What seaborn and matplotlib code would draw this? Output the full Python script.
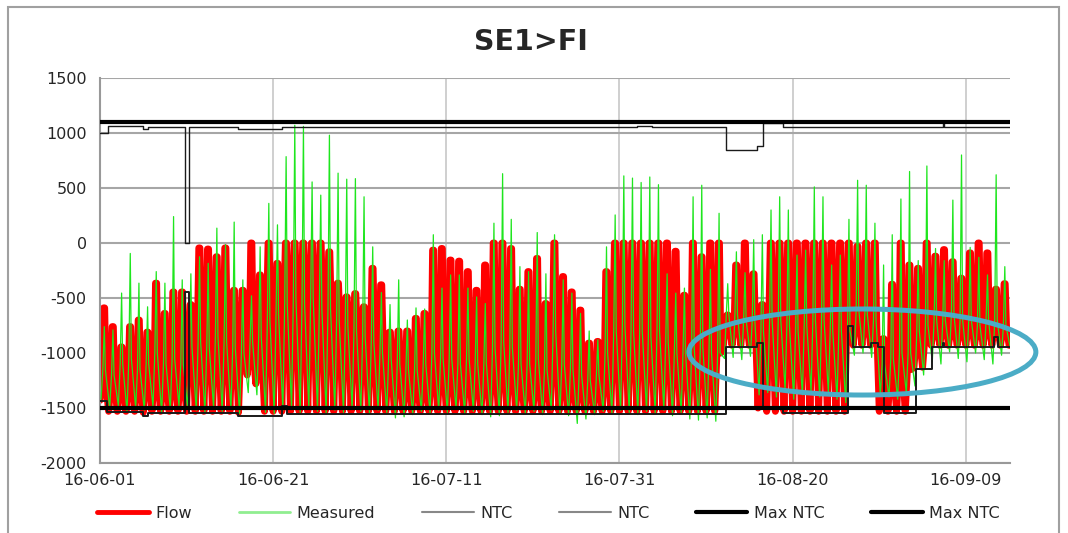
import pandas as pd
import matplotlib
matplotlib.use("Agg")
import matplotlib.pyplot as plt
import matplotlib.dates as mdates
from matplotlib.patches import Ellipse, Rectangle
from matplotlib.lines import Line2D
import seaborn as sns

# values (MW), one entry per day from 2016-06-01
# peak = daily top, mid = top of the dense band, low = daily bottom
flow_peak = [-590, -760, -945, -760, -700, -810, -365, -640, -445, -445,
             -560, -45, -55, -125, -45, -430, -430, 0, -290, 0,
             -185, 0, 0, 0, 0, 0, -80, -365, -490, -460,
             -580, -230, -380, -810, -800, -800, -685, -640, -65, -50,
             -155, -165, -260, -430, -200, 0, 0, -50, -420, -260,
             -140, -550, 0, -305, -445, -610, -910, -895, -260, 0,
             0, 0, 0, 0, 0, 0, -75, -475, 0, -125,
             0, 0, -655, -200, 0, -280, -560, 0, 0, 0,
             0, 0, 0, 0, 0, 0, 0, -30, 0, 0,
             -870, -375, 0, -200, -230, 0, -120, -60, -170, -320,
             -90, 0, -90, -420, -370, -930]
flow_mid = [-1300, -1300, -1320, -1280, -1300, -1260, -1250, -1280, -1240, -1250,
            -900, -850, -850, -900, -850, -950, -950, -1000, -1000, -650,
            -600, -550, -500, -550, -500, -550, -600, -700, -750, -800,
            -850, -900, -950, -1150, -1200, -1280, -1300, -1300, -1150, -1120,
            -1150, -1200, -1180, -1220, -1200, -1100, -1050, -1100, -1250, -1250,
            -1250, -1280, -900, -1250, -1300, -1300, -1320, -1300, -1150, -800,
            -750, -800, -750, -800, -800, -850, -950, -1000, -1000, -950,
            -1000, -1000, -750, -720, -740, -780, -750, -700, -650, -700,
            -700, -650, -650, -700, -700, -700, -750, -700, -720, -760,
            -1200, -1200, -1150, -1150, -900, -880, -780, -760, -780, -800,
            -760, -780, -760, -800, -790, -930]
flow_low = [-1430, -1530, -1530, -1530, -1530, -1540, -1530, -1530, -1530, -1530,
            -1530, -1530, -1530, -1530, -1530, -1530, -1540, -1200, -1280, -1530,
            -1530, -1530, -1530, -1530, -1530, -1530, -1530, -1530, -1530, -1530,
            -1530, -1530, -1530, -1530, -1530, -1530, -1530, -1530, -1530, -1530,
            -1530, -1530, -1530, -1530, -1530, -1530, -1530, -1530, -1530, -1530,
            -1530, -1530, -1530, -1530, -1530, -1530, -1530, -1530, -1530, -1530,
            -1530, -1530, -1530, -1530, -1530, -1530, -1530, -1530, -1530, -1530,
            -1530, -1530, -930, -930, -930, -930, -1500, -1530, -1530, -1530,
            -1530, -1530, -1530, -1530, -1530, -1530, -1530, -930, -930, -930,
            -1530, -1530, -1530, -1530, -1130, -1130, -930, -930, -930, -930,
            -930, -930, -930, -930, -930, -930]
meas_peak = [-760, -790, -455, -95, -365, -580, -260, -365, 240, -335,
             -280, -125, -185, 135, -15, 190, -335, -480, -35, 360,
             165, 785, 1070, 1060, 555, 435, 980, 635, 580, 585,
             420, -35, -450, -560, -335, -700, -590, -600, 75, -410,
             -290, -290, -410, -490, -550, 180, 630, 215, -215, -260,
             95, -280, 75, -335, -455, -640, -800, -880, -35, 255,
             610, 590, 550, 600, 530, -280, -455, -410, 420, 525,
             -240, 270, -370, -80, -270, 30, 75, 300, 420, 300,
             -110, -65, 510, 420, -200, -110, 215, 570, 525, 180,
             -200, 75, 400, 650, -160, 700, -50, -160, 390, 800,
             -40, -130, -290, 620, -215, -850]
meas_mid = [-1150, -1200, -1100, -1050, -1150, -1100, -1000, -1100, -1050, -1100,
            -950, -900, -950, -850, -900, -950, -1000, -900, -850, -700,
            -650, -550, -500, -550, -500, -600, -600, -700, -750, -800,
            -850, -900, -1000, -1050, -1100, -1150, -1150, -1100, -1000, -1050,
            -1050, -1100, -1050, -1100, -1100, -950, -900, -950, -1100, -1100,
            -1050, -1150, -800, -1100, -1150, -1200, -1250, -1200, -1000, -800,
            -750, -800, -800, -850, -800, -900, -1000, -1000, -950, -950,
            -1000, -1000, -650, -650, -700, -700, -800, -700, -700, -750,
            -800, -750, -700, -700, -800, -800, -800, -600, -650, -700,
            -1100, -1050, -1000, -1000, -800, -750, -700, -700, -650, -700,
            -700, -750, -700, -700, -750, -900]
meas_low = [-1420, -1500, -1480, -1530, -1500, -1520, -1490, -1550, -1510, -1480,
            -1500, -1520, -1540, -1500, -1530, -1510, -1550, -1360, -1380, -1540,
            -1550, -1520, -1500, -1540, -1510, -1530, -1550, -1520, -1540, -1510,
            -1530, -1550, -1520, -1540, -1590, -1580, -1560, -1530, -1550, -1520,
            -1540, -1510, -1550, -1530, -1560, -1580, -1570, -1540, -1520, -1550,
            -1530, -1560, -1520, -1550, -1570, -1640, -1600, -1560, -1530, -1550,
            -1520, -1540, -1560, -1530, -1550, -1520, -1570, -1540, -1600, -1610,
            -1590, -1620, -1050, -1040, -1060, -1030, -1380, -1360, -1400, -1330,
            -1420, -1380, -1350, -1400, -1360, -1420, -1450, -1020, -1000, -1040,
            -1380, -1400, -1420, -1360, -1300, -1200, -1080, -1100, -990, -1050,
            -1080, -1000, -1060, -1100, -1020, -950]

# NTC step changes (days after 16-06-01, MW)
ntc_exp_day = [0, 0.89, 4.95, 5.55, 9.81, 10.25, 15.95, 21.0, 62.0, 63.8,
               72.3, 75.86, 76.56, 78.87, 97.35, 97.5, 105.1]
ntc_exp_val = [1000, 1060, 1040, 1050, 0, 1055, 1040, 1050, 1060, 1050,
               845, 885, 1095, 1055, 1090, 1055, 1055]
ntc_imp_day = [0, 0.84, 4.95, 5.55, 9.81, 10.25, 15.95, 21.0, 21.6, 72.3,
               75.86, 76.56, 78.87, 86.38, 86.95, 89.03, 89.84, 90.54, 94.22, 96.07,
               97.35, 97.5, 103.24, 103.66, 105.1]
ntc_imp_val = [-1440, -1536, -1570, -1545, -445, -1545, -1570, -1480, -1555, -945,
               -910, -1500, -1545, -755, -945, -910, -945, -1545, -1145, -945,
               -910, -945, -855, -945, -945]
max_ntc_exp = 1100
max_ntc_imp = -1500

start = pd.Timestamp("2016-06-01")
end = start + pd.Timedelta(days=105.1)
days = pd.date_range(start, periods=len(flow_peak), freq="D")
h = lambda n: days + pd.Timedelta(hours=n)

flow = pd.DataFrame({"time": list(h(0)) + list(h(6)) + list(h(10)) + list(h(13)) + list(h(17)),
                     "MW": flow_low + flow_mid + flow_peak + flow_peak + flow_mid}).sort_values("time")
meas = pd.DataFrame({"time": list(h(3)) + list(h(8)) + list(h(12)) + list(h(15)),
                     "MW": meas_low + meas_mid + meas_peak + meas_mid}).sort_values("time")
ntc_exp = pd.DataFrame({"time": start + pd.to_timedelta(ntc_exp_day, unit="D"), "MW": ntc_exp_val})
ntc_imp = pd.DataFrame({"time": start + pd.to_timedelta(ntc_imp_day, unit="D"), "MW": ntc_imp_val})

sns.set_style("white")
plt.rcParams["font.family"] = ["DejaVu Sans"]
plt.rcParams["axes.unicode_minus"] = False

fig = plt.figure(figsize=(10.68, 5.33), dpi=100)
ax = fig.add_axes([0.0936, 0.1313, 0.8521, 0.7224])

sns.lineplot(data=flow, x="time", y="MW", ax=ax, color="#ff0000", lw=5.0,
             estimator=None, solid_joinstyle="round", zorder=2)
sns.lineplot(data=meas, x="time", y="MW", ax=ax, color="#1ee61e", lw=0.9,
             estimator=None, zorder=3)
sns.lineplot(data=ntc_exp, x="time", y="MW", ax=ax, color="#1a1a1a", lw=1.0,
             estimator=None, drawstyle="steps-post", zorder=4)
sns.lineplot(data=ntc_imp, x="time", y="MW", ax=ax, color="#1a1a1a", lw=1.4,
             estimator=None, drawstyle="steps-post", zorder=4)
sns.lineplot(x=[start, end], y=[max_ntc_exp, max_ntc_exp], ax=ax, color="black", lw=3, zorder=5)
sns.lineplot(x=[start, end], y=[max_ntc_imp, max_ntc_imp], ax=ax, color="black", lw=3, zorder=5)

ax.set_xlim(start, end)
ax.set_ylim(-2000, 1500)
ax.set_yticks(range(-2000, 1501, 500))
ax.set_xticks(pd.date_range(start, periods=6, freq="20D"))
ax.xaxis.set_major_formatter(mdates.DateFormatter("%y-%m-%d"))
ax.set_xlabel("")
ax.set_ylabel("")
ax.grid(axis="y", color="#a6a6a6", lw=1.5)
ax.grid(axis="x", color="#cccccc", lw=1.3)
ax.set_axisbelow(True)
for s in ["top", "right"]:
    ax.spines[s].set_visible(False)
for s in ["left", "bottom"]:
    ax.spines[s].set_color("#999999")
    ax.spines[s].set_linewidth(1.5)
ax.tick_params(axis="y", length=5, color="#999999", labelsize=11.5, pad=4.5)
ax.tick_params(axis="x", length=0, labelsize=11.5, pad=7)

# highlight
x0 = mdates.date2num(start)
ax.add_patch(Ellipse((x0 + 88.05, -991), 40.07, 782, fill=False, ec="#4bacc6",
                     lw=3.6, clip_on=False, zorder=6))

fig.text(0.497, 0.922, "SE1>FI", ha="center", va="center", fontsize=20.5,
         fontweight="bold")

handles = [Line2D([], [], color="#ff0000", lw=3.5),
           Line2D([], [], color="#90ee90", lw=2),
           Line2D([], [], color="#888888", lw=1.5),
           Line2D([], [], color="#888888", lw=1.5),
           Line2D([], [], color="black", lw=3),
           Line2D([], [], color="black", lw=3)]
labels = ["Flow", "Measured", "NTC", "NTC", "Max NTC", "Max NTC"]
fig.legend(handles, labels, loc="center", bbox_to_anchor=(0.5136, 0.037), ncol=6,
           frameon=False, fontsize=11.5, handlelength=3.25, handletextpad=0.4,
           columnspacing=2.9)

fig.add_artist(Rectangle((8 / 1068, -0.05), 1051 / 1068, 1.05 - 7 / 533,
                         transform=fig.transFigure, fill=False, ec="#a0a0a0", lw=1.5))

fig.savefig("out.png", dpi=100)
